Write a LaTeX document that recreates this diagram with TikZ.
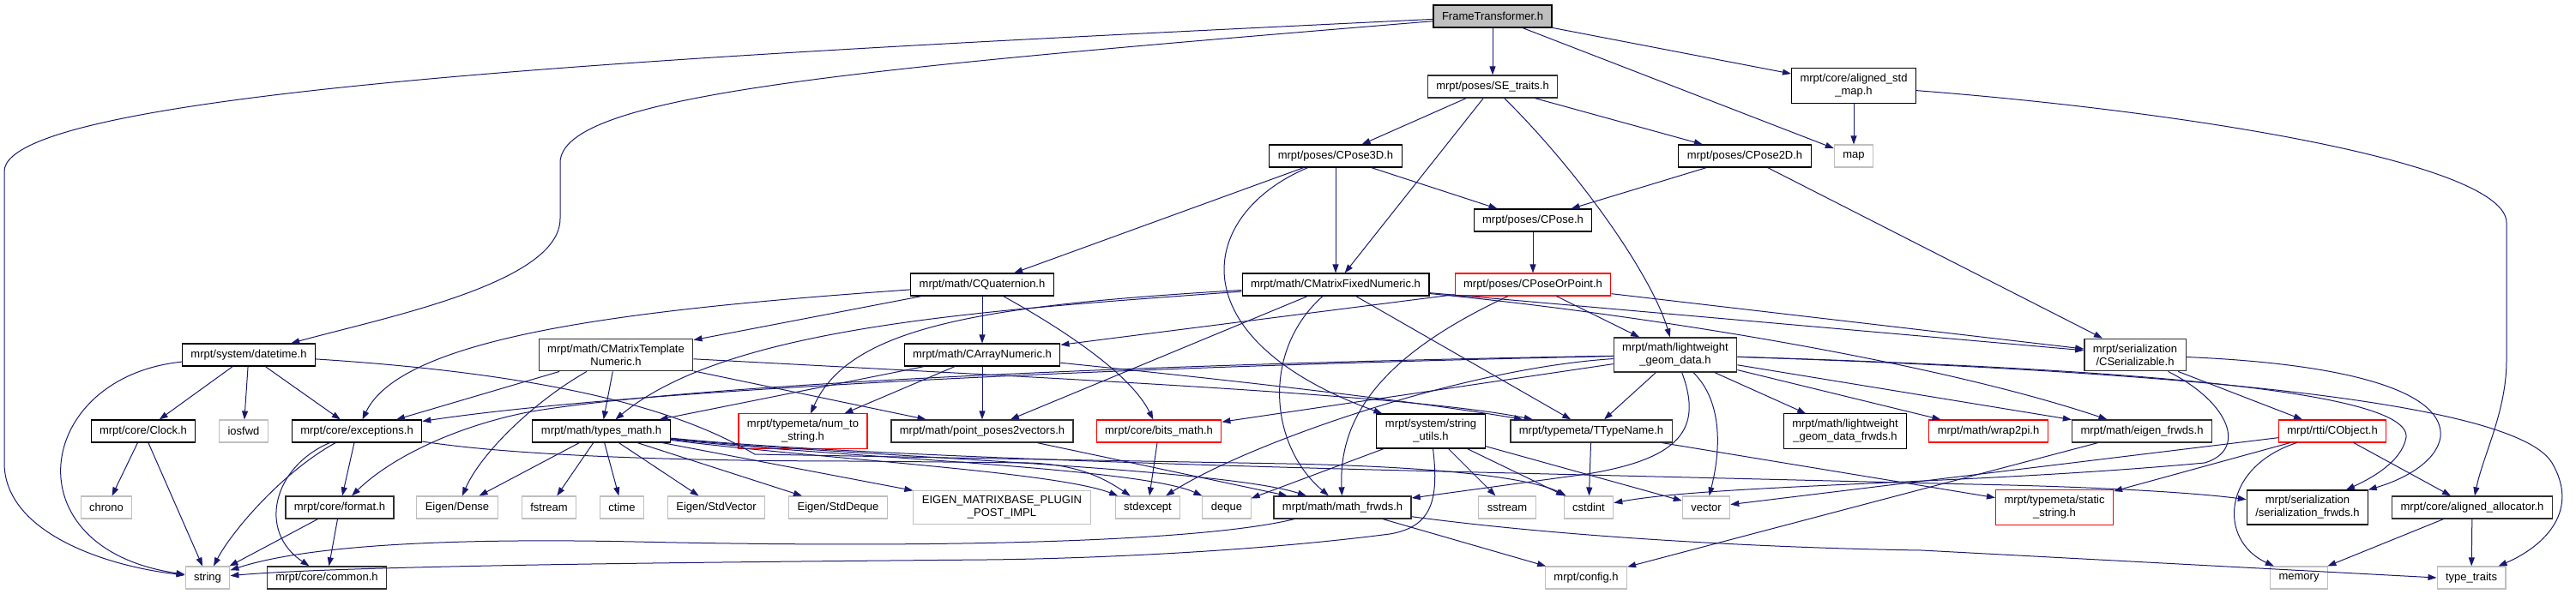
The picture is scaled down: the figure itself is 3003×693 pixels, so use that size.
\documentclass[tikz,border=0pt]{standalone}
\usepackage{fontspec}
\setmainfont{Liberation Sans}
\usetikzlibrary{arrows.meta}
\definecolor{midnightblue}{HTML}{191970}
\definecolor{grey25}{HTML}{303030}
\definecolor{grey75}{HTML}{BFBFBF}

\begin{document}
\begin{tikzpicture}[x=1pt,y=-1pt]
        \tikzstyle{every node}=[rectangle, fill=white, draw=black, line width=1.1pt, inner xsep=10pt, inner ysep=6.5pt, minimum height=26pt, align=center, font=\fontsize{13}{15}\selectfont, text=black]
        \tikzstyle{rootfile}=[fill=grey75]
        \tikzstyle{greyfile}=[draw=grey25, line width=1.3pt]
        \tikzstyle{sysfile}=[draw=grey75]
        \tikzstyle{redfile}=[draw=red]
        \tikzstyle{edge}=[midnightblue, line width=1pt, -{Triangle[length=10pt, width=7pt]}]

        \useasboundingbox (0,0) rectangle (3003,693);

        \node (ft) [rootfile]           at (1740,19)  {FrameTransformer.h};
        \node (setraits) [greyfile]     at (1740,101) {mrpt/poses/SE\_traits.h};
        \node (stdmap)                  at (2161,100) {mrpt/core/aligned\_std\\\_map.h};
        \node (map) [sysfile]           at (2161,182) {map};
        \node (pose3d)                  at (1557,182) {mrpt/poses/CPose3D.h};
        \node (pose2d)                  at (2034,182) {mrpt/poses/CPose2D.h};
        \node (pose)                    at (1787,257) {mrpt/poses/CPose.h};
        \node (poseorpoint) [redfile]   at (1787,332) {mrpt/poses/CPoseOrPoint.h};
        \node (fixednum)                at (1557,332) {mrpt/math/CMatrixFixedNumeric.h};
        \node (quat)                    at (1145,332) {mrpt/math/CQuaternion.h};

        \node (datetime)                at (290,414)  {mrpt/system/datetime.h};
        \node (templnum) [greyfile]     at (718,414)  {mrpt/math/CMatrixTemplate\\Numeric.h};
        \node (arraynum)                at (1145,414) {mrpt/math/CArrayNumeric.h};
        \node (lwgeom) [greyfile]       at (1953,414) {mrpt/math/lightweight\\\_geom\_data.h};
        \node (serializable) [greyfile] at (2489,414) {mrpt/serialization\\/CSerializable.h};

        \node (clock)                   at (167,503)  {mrpt/core/Clock.h};
        \node (iosfwd) [sysfile]        at (284,503)  {iosfwd};
        \node (exceptions)              at (416,503)  {mrpt/core/exceptions.h};
        \node (typesmath)               at (701,503)  {mrpt/math/types\_math.h};
        \node (numtostr) [redfile]      at (936,503)  {mrpt/typemeta/num\_to\\\_string.h};
        \node (pp2v) [greyfile]         at (1145,503) {mrpt/math/point\_poses2vectors.h};
        \node (bitsmath) [redfile]      at (1351,503) {mrpt/core/bits\_math.h};
        \node (strutils)                at (1668,503) {mrpt/system/string\\\_utils.h};
        \node (ttypename) [greyfile]    at (1855,503) {mrpt/typemeta/TTypeName.h};
        \node (lwfrwds)                 at (2151,503) {mrpt/math/lightweight\\\_geom\_data\_frwds.h};
        \node (wrap2pi) [redfile]       at (2318,503) {mrpt/math/wrap2pi.h};
        \node (eigenfrwds) [greyfile]   at (2497,503) {mrpt/math/eigen\_frwds.h};
        \node (cobject) [redfile]       at (2719,503) {mrpt/rtti/CObject.h};

        \node (chrono) [sysfile]        at (124,592)  {chrono};
        \node (format) [greyfile]       at (396,592)  {mrpt/core/format.h};
        \node (eigendense) [sysfile]    at (533,592)  {Eigen/Dense};
        \node (fstream) [sysfile]       at (640,592)  {fstream};
        \node (ctime) [sysfile]         at (725,592)  {ctime};
        \node (stdvector) [sysfile]     at (835,592)  {Eigen/StdVector};
        \node (stddeque) [sysfile]      at (977,592)  {Eigen/StdDeque};
        \node (plugin) [sysfile]        at (1168,592) {EIGEN\_MATRIXBASE\_PLUGIN\\\_POST\_IMPL};
        \node (stdexcept) [sysfile]     at (1338,592) {stdexcept};
        \node (deque) [sysfile]         at (1430,592) {deque};
        \node (mathfrwds) [greyfile]    at (1565,592) {mrpt/math/math\_frwds.h};
        \node (sstream) [sysfile]       at (1757,592) {sstream};
        \node (cstdint) [sysfile]       at (1852,592) {cstdint};
        \node (vector) [sysfile]        at (1989,592) {vector};
        \node (staticstr) [redfile]     at (2395,592) {mrpt/typemeta/static\\\_string.h};
        \node (serfrwds)                at (2690,592) {mrpt/serialization\\/serialization\_frwds.h};
        \node (allocator) [greyfile]    at (2882,592) {mrpt/core/aligned\_allocator.h};

        \node (string) [sysfile]        at (242,674)  {string};
        \node (common) [greyfile]       at (381,674)  {mrpt/core/common.h};
        \node (config) [sysfile]        at (1849,674) {mrpt/config.h};
        \node (memory) [sysfile]        at (2680,674) {memory};
        \node (typetraits) [sysfile]    at (2881,674) {type\_traits};

        \draw[edge] (ft) .. controls (900,60) and (5,100) .. (5,200) -- (5,540) .. controls (5,620) and (120,660) .. (string);
        \draw[edge] (ft) .. controls (1000,80) and (653,110) .. (653,190) -- (653,255) .. controls (653,330) and (450,370) .. (datetime);
        \draw[edge] (ft) -- (setraits);
        \draw[edge] (ft) -- (map);
        \draw[edge] (ft) -- (stdmap);

        \draw[edge] (stdmap) -- (map);
        \draw[edge] (stdmap) .. controls (2550,130) and (2922,190) .. (2922,260) -- (2922,420) .. controls (2922,480) and (2895,530) .. (allocator);

        \draw[edge] (setraits) -- (pose3d);
        \draw[edge] (setraits) -- (fixednum);
        \draw[edge] (setraits) .. controls (1840,200) and (1925,320) .. (lwgeom);
        \draw[edge] (setraits) -- (pose2d);

        \draw[edge] (pose3d) -- (quat);
        \draw[edge] (pose3d) -- (fixednum);
        \draw[edge] (pose3d) -- (pose);
        \draw[edge] (pose3d) .. controls (1395,250) and (1370,395) .. (strutils);

        \draw[edge] (pose2d) -- (pose);
        \draw[edge] (pose2d) -- (serializable);
        \draw[edge] (pose) -- (poseorpoint);

        \draw[edge] (poseorpoint) -- (lwgeom);
        \draw[edge] (poseorpoint) -- (arraynum);
        \draw[edge] (poseorpoint) -- (serializable);
        \draw[edge] (poseorpoint) .. controls (1620,410) and (1560,480) .. (mathfrwds);

        \draw[edge] (fixednum) -- (serializable);
        \draw[edge] (fixednum) .. controls (1900,365) and (2250,420) .. (eigenfrwds);
        \draw[edge] (fixednum) .. controls (1150,362) and (850,380) .. (typesmath);
        \draw[edge] (fixednum) .. controls (1150,356) and (990,380) .. (numtostr);
        \draw[edge] (fixednum) -- (pp2v);
        \draw[edge] (fixednum) .. controls (1470,410) and (1480,520) .. (mathfrwds);
        \draw[edge] (fixednum) -- (ttypename);

        \draw[edge] (quat) -- (templnum);
        \draw[edge] (quat) -- (arraynum);
        \draw[edge] (quat) .. controls (750,360) and (470,390) .. (exceptions);
        \draw[edge] (quat) .. controls (1250,390) and (1320,440) .. (bitsmath);

        \draw[edge] (templnum) -- (exceptions);
        \draw[edge] (templnum) .. controls (620,470) and (560,530) .. (eigendense);
        \draw[edge] (templnum) -- (typesmath);
        \draw[edge] (templnum) -- (pp2v);
        \draw[edge] (templnum) .. controls (1300,445) and (1650,462) .. (ttypename);

        \draw[edge] (arraynum) -- (typesmath);
        \draw[edge] (arraynum) -- (numtostr);
        \draw[edge] (arraynum) -- (pp2v);
        \draw[edge] (arraynum) .. controls (1450,445) and (1650,468) .. (ttypename);

        \draw[edge] (datetime) .. controls (40,440) and (10,640) .. (string);
        \draw[edge] (datetime) -- (clock);
        \draw[edge] (datetime) -- (iosfwd);
        \draw[edge] (datetime) -- (exceptions);
        \draw[edge] (datetime) .. controls (700,440) and (820,495) .. (880,530) -- (1500,541) .. controls (1700,545) and (1790,560) .. (cstdint);

        \draw[edge] (clock) -- (chrono);
        \draw[edge] (clock) -- (string);

        \draw[edge] (exceptions) .. controls (330,550) and (270,620) .. (string);
        \draw[edge] (exceptions) .. controls (318,545) and (300,620) .. (common);
        \draw[edge] (exceptions) -- (format);
        \draw[edge] (exceptions) .. controls (600,532) and (800,538) .. (1000,538) -- (1200,540) .. controls (1260,542) and (1290,560) .. (stdexcept);

        \draw[edge] (typesmath) -- (eigendense);
        \draw[edge] (typesmath) -- (fstream);
        \draw[edge] (typesmath) -- (ctime);
        \draw[edge] (typesmath) -- (stdvector);
        \draw[edge] (typesmath) -- (stddeque);
        \draw[edge] (typesmath) -- (plugin);
        \draw[edge] (typesmath) .. controls (950,535) and (1230,550) .. (stdexcept);
        \draw[edge] (typesmath) .. controls (950,532) and (1330,545) .. (deque);
        \draw[edge] (typesmath) .. controls (950,530) and (1420,545) .. (mathfrwds);
        \draw[edge] (typesmath) .. controls (950,528) and (1300,540) .. (1600,548) -- (2300,565) .. controls (2450,568) and (2560,575) .. (serfrwds);

        \draw[edge] (format) -- (string);
        \draw[edge] (format) -- (common);
        \draw[edge] (pp2v) -- (mathfrwds);
        \draw[edge] (bitsmath) -- (stdexcept);

        \draw[edge] (strutils) .. controls (1678,585) and (1668,615) .. (1620,623) .. controls (1450,645) and (1250,652) .. (1150,653) .. controls (800,656) and (400,660) .. (string);
        \draw[edge] (strutils) -- (sstream);
        \draw[edge] (strutils) -- (cstdint);
        \draw[edge] (strutils) -- (vector);
        \draw[edge] (strutils) -- (deque);

        \draw[edge] (ttypename) -- (cstdint);
        \draw[edge] (ttypename) -- (staticstr);

        \draw[edge] (lwgeom) -- (ttypename);
        \draw[edge] (lwgeom) .. controls (2010,470) and (2005,530) .. (vector);
        \draw[edge] (lwgeom) .. controls (1985,500) and (1960,535) .. (1850,553) -- (mathfrwds);
        \draw[edge] (lwgeom) -- (lwfrwds);
        \draw[edge] (lwgeom) -- (wrap2pi);
        \draw[edge] (lwgeom) -- (eigenfrwds);
        \draw[edge] (lwgeom) .. controls (1200,430) and (700,460) .. (exceptions);
        \draw[edge] (lwgeom) .. controls (1300,425) and (800,450) .. (620,480) .. controls (540,495) and (460,530) .. (format);
        \draw[edge] (lwgeom) -- (bitsmath);
        \draw[edge] (lwgeom) .. controls (1700,430) and (1450,520) .. (stdexcept);
        \draw[edge] (lwgeom) .. controls (2400,428) and (2810,450) .. (2805,510) .. controls (2800,540) and (2760,560) .. (serfrwds);
        \draw[edge] (lwgeom) .. controls (2500,432) and (2930,465) .. (2975,540) .. controls (3010,600) and (2960,640) .. (typetraits);

        \draw[edge] (serializable) -- (cobject);
        \draw[edge] (serializable) .. controls (2750,425) and (2850,460) .. (2845,510) .. controls (2840,540) and (2800,560) .. (serfrwds);
        \draw[edge] (serializable) .. controls (2600,470) and (2620,525) .. (2570,540) .. controls (2300,565) and (2000,565) .. (cstdint);

        \draw[edge] (cobject) -- (staticstr);
        \draw[edge] (cobject) -- (vector);
        \draw[edge] (cobject) .. controls (2590,545) and (2585,630) .. (memory);
        \draw[edge] (cobject) -- (allocator);

        \draw[edge] (eigenfrwds) -- (config);
        \draw[edge] (allocator) -- (memory);
        \draw[edge] (allocator) -- (typetraits);

        \draw[edge] (mathfrwds) .. controls (1400,632) and (1100,640) .. (740,632) .. controls (450,626) and (330,645) .. (string);
        \draw[edge] (mathfrwds) -- (config);
        \draw[edge] (mathfrwds) .. controls (1850,630) and (2100,640) .. (2240,642) -- (typetraits.west);
\end{tikzpicture}
\end{document}
